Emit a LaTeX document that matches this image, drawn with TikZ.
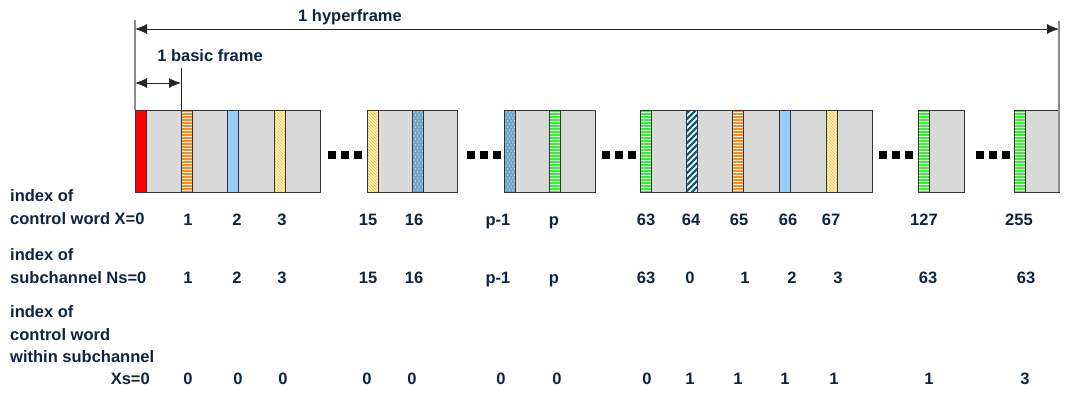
\documentclass[tikz,border=0pt]{standalone}
\usepackage{fontspec}
\setmainfont{Liberation Sans}
\usetikzlibrary{arrows.meta}
\definecolor{txt}{HTML}{0C2444}
\definecolor{boxgrey}{HTML}{D9D9D9}
\definecolor{edge}{HTML}{333333}
\definecolor{vgrey}{HTML}{8C8C8C}
\definecolor{slotred}{HTML}{FF0000}
\definecolor{slotorange}{HTML}{FF8A1E}
\definecolor{slotblue}{HTML}{99CCFF}
\definecolor{slotyellowbg}{HTML}{FFF8E0}
\definecolor{slotyellow}{HTML}{FFC845}
\definecolor{slotsteel}{HTML}{6FA6C6}
\definecolor{slotgreen}{HTML}{2EF52E}
\definecolor{slotteal}{HTML}{155A78}
\tikzset{
  lbl/.style={font=\fontsize{16.5}{19}\selectfont\bfseries, text=txt, inner sep=0pt},
  num/.style={lbl, anchor=base},
  rowlbl/.style={lbl, anchor=base west},
  framebox/.style={draw=edge, fill=boxgrey, line width=0.9pt, minimum height=82pt, inner sep=0pt, anchor=north west},
  slotline/.style={draw=edge, line width=0.9pt},
  dimarrow/.style={draw=black!85, line width=0.9pt, {Latex[length=12pt,width=10pt]}-{Latex[length=12pt,width=10pt]}},
  guide/.style={draw=vgrey, line width=1.2pt},
}
\newcommand\slotframe[1]{\draw[slotline] (#1,110) rectangle ++(11,82);}
\newcommand\solidslot[2]{\fill[#2] (#1,110) rectangle ++(11,82); \slotframe{#1}}
\newcommand\hstripeslot[2]{%
  \begin{scope}
    \clip (#1,110) rectangle ++(11,82);
    \fill[white] (#1,110) rectangle ++(11,82);
    \foreach \k in {0,...,27} \fill[#2] ({#1},{110+3*\k}) rectangle ++(11,2);
  \end{scope}
  \slotframe{#1}}
\newcommand\yellowslot[1]{%
  \begin{scope}
    \clip (#1,110) rectangle ++(11,82);
    \fill[slotyellowbg] (#1,110) rectangle ++(11,82);
    \foreach \k in {-5,...,30} \draw[slotyellow, line width=1pt] ({#1-2},{110+3*\k}) -- ++(16,16);
  \end{scope}
  \slotframe{#1}}
\newcommand\tealslot[1]{%
  \begin{scope}
    \clip (#1,110) rectangle ++(11,82);
    \fill[white] (#1,110) rectangle ++(11,82);
    \foreach \k in {0,...,20} \draw[slotteal, line width=2.2pt] ({#1-2},{110+6*\k}) -- ++(16,-16);
  \end{scope}
  \slotframe{#1}}
\newcommand\dotslot[1]{%
  \begin{scope}
    \clip (#1,110) rectangle ++(11,82);
    \fill[slotsteel] (#1,110) rectangle ++(11,82);
    \foreach \r in {0,...,27} {
      \foreach \c in {0,1,2} {
        \fill[white!85!slotsteel] ({#1+2+3.5*\c+1.5*mod(\r,2)},{112+3*\r}) circle (0.6pt);
      }
    }
  \end{scope}
  \slotframe{#1}}
\newcommand\ellipsisdots[1]{%
  \foreach \o in {-17,-4,9} \fill[black] ({#1+\o},151) rectangle ++(8,8);}
\begin{document}
\begin{tikzpicture}[x=1pt,y=-1pt]
\useasboundingbox (0,0) rectangle (1072,400);

% guide lines
\coordinate (vLtop) at (135,20);
\coordinate (vLbot) at (135,110);
\coordinate (vRtop) at (1059,21);
\coordinate (vRbot) at (1059,110);
\coordinate (vBtop) at (181,68);
\coordinate (vBbot) at (181,110);
\draw[guide] (vLtop) -- (vLbot);
\draw[guide] (vRtop) -- (vRbot);
\draw[draw=black!85, line width=0.9pt] (vBtop) -- (vBbot);

% dimension arrows
\coordinate (hfL) at (135,29);
\coordinate (hfR) at (1059,29);
\coordinate (bfL) at (135,83);
\coordinate (bfR) at (181,83);
\draw[dimarrow] (hfL) -- (hfR);
\draw[dimarrow] (bfL) -- (bfR);
\node[lbl, anchor=base] (hyper) at (350,21) {1 hyperframe};
\node[lbl, anchor=base] (basic) at (210,61) {1 basic frame};

% frame groups
\node[framebox, minimum width=185pt] (g1) at (135,110) {};
\node[framebox, minimum width=90pt] (g2) at (367,110) {};
\node[framebox, minimum width=91pt] (g3) at (504,110) {};
\node[framebox, minimum width=232pt] (g4) at (640,110) {};
\node[framebox, minimum width=46pt] (g5) at (918,110) {};
\node[framebox, minimum width=45pt] (g6) at (1014,110) {};

% slots
\solidslot{135}{slotred}
\hstripeslot{181.5}{slotorange}
\solidslot{227.5}{slotblue}
\yellowslot{274}
\yellowslot{367}
\dotslot{412}
\dotslot{504}
\hstripeslot{549}{slotgreen}
\hstripeslot{640}{slotgreen}
\tealslot{686}
\hstripeslot{732.5}{slotorange}
\solidslot{779}{slotblue}
\yellowslot{826}
\hstripeslot{918}{slotgreen}
\hstripeslot{1014}{slotgreen}
\draw[guide] (vRbot) -- ++(0,82);

% ellipses
\ellipsisdots{345}
\ellipsisdots{483.5}
\ellipsisdots{618.5}
\ellipsisdots{896}
\ellipsisdots{993}

% row labels
\node[rowlbl] (l1a) at (10,201) {index of};
\node[rowlbl] (l1b) at (10,224) {control word X=0};
\node[rowlbl] (l2a) at (10,260) {index of};
\node[rowlbl] (l2b) at (10,283) {subchannel Ns=0};
\node[rowlbl] (l3a) at (10,317) {index of};
\node[rowlbl] (l3b) at (10,340) {control word};
\node[rowlbl] (l3c) at (10,362) {within subchannel};
\node[lbl, anchor=base east] (l3d) at (150,384) {Xs=0};

% row 1 numbers
\foreach \x/\t [count=\i] in {188/1,237/2,282/3,368/15,414/16,498/p-1,554/p,646/63,691/64,739/65,788/66,831/67,924/127,1019/255}
  \node[num] (a\i) at (\x,225) {\t};
% row 2 numbers
\foreach \x/\t [count=\i] in {188/1,237/2,282/3,368/15,414/16,498/p-1,554/p,646/63,690/0,745/1,792/2,838/3,928/63,1026/63}
  \node[num] (b\i) at (\x,283) {\t};
% row 3 numbers
\foreach \x/\t [count=\i] in {188/0,238/0,283/0,367/0,412/0,501/0,557/0,647/0,690/1,738/1,785/1,834/1,929/1,1025/3}
  \node[num] (c\i) at (\x,384) {\t};
\end{tikzpicture}
\end{document}
